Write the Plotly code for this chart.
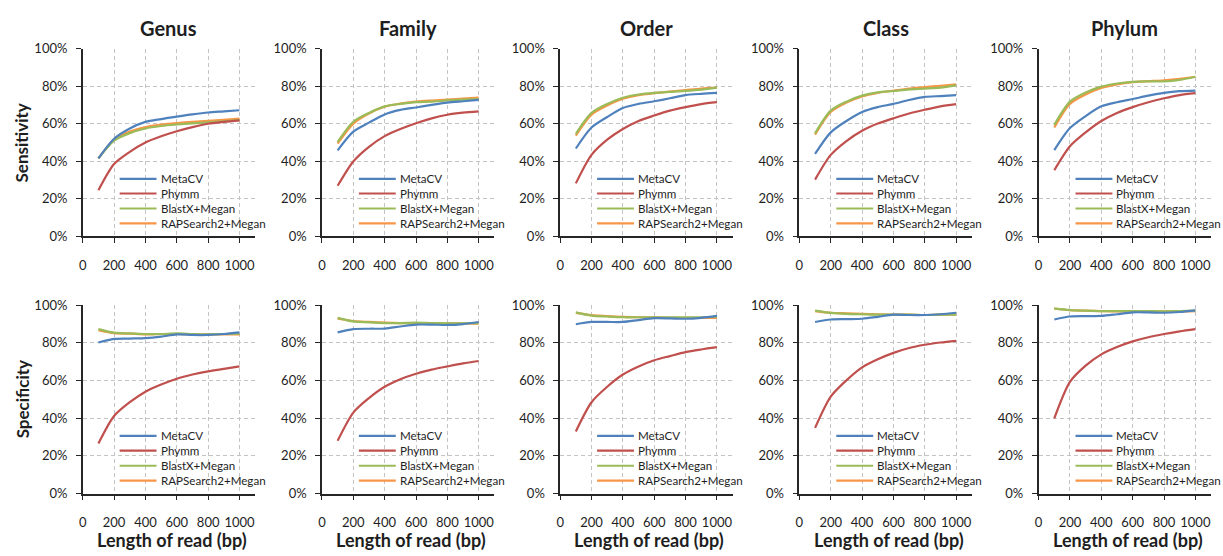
import plotly.graph_objects as go

# Read length (bp) at which each classifier was evaluated
read_length = [100, 200, 300, 400, 500, 600, 700, 800, 900, 1000]

methods = ["MetaCV", "Phymm", "BlastX+Megan", "RAPSearch2+Megan"]
ranks = ["Genus", "Family", "Order", "Class", "Phylum"]
metrics = ["Sensitivity", "Specificity"]

x_tick_values = [0, 200, 400, 600, 800, 1000]
y_tick_values = [0, 0.2, 0.4, 0.6, 0.8, 1.0]

# Sensitivity (%) per taxonomic rank
genus_sensitivity = {
    "MetaCV":           [41.5, 52.0, 57.5, 61.0, 62.5, 63.8, 65.0, 66.0, 66.6, 67.2],
    "Phymm":            [24.5, 38.5, 45.0, 50.0, 53.3, 56.0, 58.2, 60.0, 61.0, 61.8],
    "BlastX+Megan":     [41.5, 51.0, 55.0, 57.5, 58.8, 59.6, 60.2, 60.8, 61.3, 61.9],
    "RAPSearch2+Megan": [41.5, 51.5, 55.8, 58.3, 59.6, 60.4, 61.0, 61.6, 62.1, 62.7],
}
family_sensitivity = {
    "MetaCV":           [45.8, 55.8, 60.6, 65.0, 67.4, 68.7, 70.1, 71.3, 72.0, 72.7],
    "Phymm":            [26.9, 39.9, 47.7, 53.4, 57.2, 60.3, 62.9, 64.8, 65.9, 66.6],
    "BlastX+Megan":     [50.3, 61.1, 65.8, 69.3, 70.6, 71.5, 71.8, 72.5, 72.9, 73.2],
    "RAPSearch2+Megan": [49.4, 60.1, 65.5, 69.1, 70.8, 71.8, 72.4, 72.9, 73.4, 73.9],
}
order_sensitivity = {
    "MetaCV":           [46.8, 58.0, 63.6, 68.4, 70.6, 72.0, 73.6, 75.3, 76.0, 76.5],
    "Phymm":            [28.2, 43.4, 51.5, 57.2, 61.5, 64.4, 67.0, 68.9, 70.5, 71.5],
    "BlastX+Megan":     [54.6, 65.8, 70.6, 73.9, 75.6, 76.5, 77.0, 77.5, 78.2, 79.3],
    "RAPSearch2+Megan": [53.7, 64.9, 69.8, 73.4, 75.3, 76.3, 77.2, 78.0, 78.8, 79.3],
}
class_sensitivity = {
    "MetaCV":           [43.9, 55.4, 61.5, 66.3, 68.9, 70.6, 72.7, 74.3, 74.8, 75.3],
    "Phymm":            [30.2, 43.4, 50.8, 56.3, 60.1, 62.9, 65.5, 67.5, 69.3, 70.5],
    "BlastX+Megan":     [54.9, 67.0, 71.8, 75.0, 76.7, 77.5, 78.4, 78.8, 79.3, 80.5],
    "RAPSearch2+Megan": [54.2, 66.3, 71.3, 74.6, 76.5, 77.7, 78.8, 79.6, 80.3, 81.0],
}
phylum_sensitivity = {
    "MetaCV":           [45.9, 57.7, 64.1, 69.3, 71.5, 73.2, 75.0, 76.5, 77.4, 77.7],
    "Phymm":            [35.2, 48.0, 55.4, 61.5, 65.8, 68.9, 71.5, 73.6, 75.3, 76.3],
    "BlastX+Megan":     [59.4, 71.8, 76.7, 79.8, 81.5, 82.4, 82.6, 82.6, 83.4, 85.1],
    "RAPSearch2+Megan": [58.0, 70.6, 75.6, 79.1, 81.0, 82.2, 82.7, 83.2, 84.0, 85.1],
}

# Specificity (%) per taxonomic rank
genus_specificity = {
    "MetaCV":           [80.2, 82.1, 82.3, 82.5, 83.3, 84.5, 84.2, 84.2, 84.7, 85.6],
    "Phymm":            [26.6, 41.2, 48.5, 54.1, 57.9, 61.0, 63.2, 64.9, 66.2, 67.5],
    "BlastX+Megan":     [87.3, 85.4, 85.0, 84.7, 84.7, 85.0, 84.7, 84.5, 84.7, 84.9],
    "RAPSearch2+Megan": [86.8, 85.2, 84.9, 84.5, 84.7, 84.7, 84.5, 84.5, 84.5, 84.5],
}
family_specificity = {
    "MetaCV":           [85.6, 87.3, 87.5, 87.6, 88.7, 89.7, 89.7, 89.5, 90.0, 91.1],
    "Phymm":            [28.0, 43.0, 50.7, 56.7, 60.7, 63.6, 65.8, 67.5, 69.1, 70.4],
    "BlastX+Megan":     [93.3, 91.4, 90.9, 90.5, 90.5, 90.7, 90.5, 90.4, 90.4, 90.5],
    "RAPSearch2+Megan": [92.8, 91.6, 91.1, 90.7, 90.5, 90.5, 90.4, 90.4, 90.4, 90.2],
}
order_specificity = {
    "MetaCV":           [89.9, 91.1, 91.1, 91.1, 92.1, 93.1, 93.0, 92.8, 93.3, 94.3],
    "Phymm":            [33.0, 48.5, 56.7, 63.2, 67.5, 70.8, 73.0, 75.1, 76.5, 77.7],
    "BlastX+Megan":     [96.2, 94.5, 94.0, 93.6, 93.6, 93.6, 93.5, 93.5, 93.6, 93.8],
    "RAPSearch2+Megan": [95.9, 94.7, 94.2, 93.8, 93.6, 93.5, 93.3, 93.3, 93.3, 93.3],
}
class_specificity = {
    "MetaCV":           [91.1, 92.4, 92.6, 92.8, 93.8, 95.0, 94.8, 94.8, 95.2, 96.0],
    "Phymm":            [34.9, 51.5, 60.1, 67.0, 71.3, 74.7, 77.3, 79.0, 80.2, 81.1],
    "BlastX+Megan":     [97.1, 95.9, 95.4, 95.2, 95.0, 95.0, 95.0, 94.8, 95.0, 95.0],
    "RAPSearch2+Megan": [96.9, 96.0, 95.7, 95.4, 95.2, 95.0, 95.0, 94.8, 95.0, 95.0],
}
phylum_specificity = {
    "MetaCV":           [92.4, 94.0, 94.2, 94.3, 95.2, 96.2, 96.2, 96.0, 96.4, 97.3],
    "Phymm":            [39.9, 59.3, 67.9, 73.9, 77.8, 80.8, 83.0, 84.7, 86.1, 87.3],
    "BlastX+Megan":     [98.3, 97.4, 97.1, 96.9, 96.9, 96.9, 96.9, 96.7, 96.9, 97.1],
    "RAPSearch2+Megan": [98.1, 97.4, 97.1, 96.9, 96.7, 96.7, 96.7, 96.7, 96.7, 96.9],
}

panels = [
    [genus_sensitivity, family_sensitivity, order_sensitivity, class_sensitivity, phylum_sensitivity],
    [genus_specificity, family_specificity, order_specificity, class_specificity, phylum_specificity],
]

colors = {
    "MetaCV": "#4F81BD",
    "Phymm": "#C0504D",
    "BlastX+Megan": "#9BBB59",
    "RAPSearch2+Megan": "#F79646",
}
# MetaCV is drawn last so it sits on top
draw_order = ["RAPSearch2+Megan", "BlastX+Megan", "Phymm", "MetaCV"]

W, H = 1223, 556
FONT = "Lato, 'Liberation Sans', sans-serif"
TEXT = "#1e1e1e"
AXIS = "#262626"
GRID = "#c4c4c4"

col_left = [79, 319, 558, 798, 1038]   # px
plot_w = 173
row_px = [(42, 235), (306, 500)]      # (top, bottom) px

fig = go.Figure()
annotations = []
shapes = []

legend_x0, legend_x1, legend_tx = 0.214, 0.428, 0.440
legend_rows = [0.306, 0.228, 0.148, 0.069]

for r, metric in enumerate(metrics):
    top, bottom = row_px[r]
    ydom = [1 - bottom / H, 1 - top / H]
    for c, rank in enumerate(ranks):
        n = r * 5 + c + 1
        xname = "xaxis" if n == 1 else f"xaxis{n}"
        yname = "yaxis" if n == 1 else f"yaxis{n}"
        xref = "x" if n == 1 else f"x{n}"
        yref = "y" if n == 1 else f"y{n}"
        xdom = [col_left[c] / W, (col_left[c] + plot_w) / W]
        data = panels[r][c]

        for m in draw_order:
            fig.add_trace(go.Scatter(
                x=read_length,
                y=[v / 100 for v in data[m]],
                mode="lines",
                name=m,
                line=dict(color=colors[m], width=2.2, shape="spline", smoothing=0.8),
                xaxis=xref, yaxis=yref,
                showlegend=False,
                hovertemplate=f"{m}<br>%{{x}} bp: %{{y:.1%}}<extra>{rank}</extra>",
            ))

        axis_common = dict(
            showline=True, linecolor=AXIS, linewidth=1.5,
            ticks="outside", ticklen=5, tickwidth=1.2, tickcolor=AXIS,
            showgrid=True, gridcolor=GRID, gridwidth=1, griddash="4px,3px",
            zeroline=False,
            tickfont=dict(family=FONT, size=13, color=TEXT),
            fixedrange=True,
        )
        fig.layout[xname] = dict(
            domain=xdom, range=[0, 1100], anchor=yref,
            tickvals=x_tick_values, ticklabelstandoff=11, **axis_common,
        )
        fig.layout[yname] = dict(
            domain=ydom, range=[0, 1], anchor=xref,
            tickvals=y_tick_values, tickformat=".0%", ticklabelstandoff=6, **axis_common,
        )

        # In-plot key for each panel
        for i, m in enumerate(methods):
            shapes.append(dict(
                type="line", xref=f"{xref} domain", yref=f"{yref} domain",
                x0=legend_x0, x1=legend_x1, y0=legend_rows[i], y1=legend_rows[i],
                line=dict(color=colors[m], width=2.2),
            ))
            annotations.append(dict(
                text=m, xref=f"{xref} domain", yref=f"{yref} domain",
                x=legend_tx, y=legend_rows[i], xanchor="left", yanchor="middle",
                showarrow=False, font=dict(family=FONT, size=11.6, color=TEXT),
            ))

        if r == 0:
            annotations.append(dict(
                text=f"<b>{rank}</b>", xref=f"{xref} domain", yref="paper",
                x=0.5, y=1 - 21 / H, xanchor="center", yanchor="middle",
                showarrow=False, font=dict(family=FONT, size=20, color=TEXT),
            ))
        else:
            annotations.append(dict(
                text="<b>Length of read (bp)</b>", xref=f"{xref} domain", yref="paper",
                x=0.5, y=1 - 548 / H, xanchor="center", yanchor="middle", xshift=3,
                showarrow=False, font=dict(family=FONT, size=18, color=TEXT),
            ))

    annotations.append(dict(
        text=f"<b>{metric}</b>", xref="paper", yref="paper",
        x=18 / W, y=1 - (top + bottom) / 2 / H, xanchor="center", yanchor="middle",
        textangle=-90, showarrow=False, font=dict(family=FONT, size=17, color=TEXT),
    ))

fig.update_layout(
    width=W, height=H, autosize=False,
    margin=dict(l=0, r=0, t=0, b=0),
    paper_bgcolor="white", plot_bgcolor="white",
    showlegend=False,
    annotations=annotations, shapes=shapes,
)

fig.write_html("out.html")
